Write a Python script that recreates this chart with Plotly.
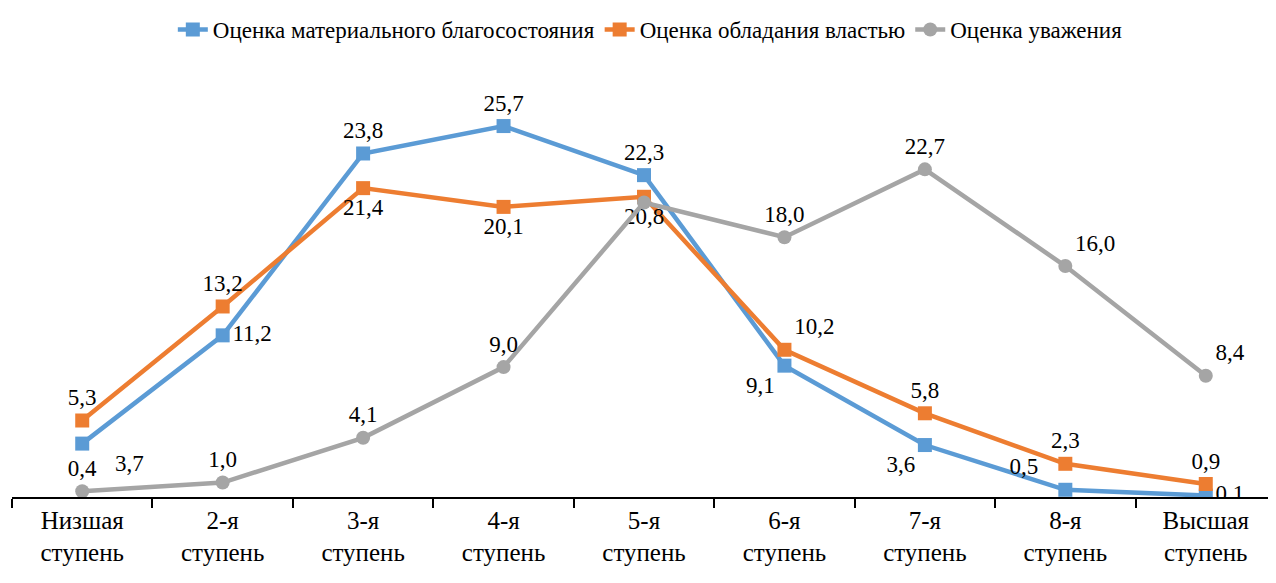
import plotly.graph_objects as go

categories = ["Низшая<br>ступень", "2-я<br>ступень", "3-я<br>ступень", "4-я<br>ступень", "5-я<br>ступень",
              "6-я<br>ступень", "7-я<br>ступень", "8-я<br>ступень", "Высшая<br>ступень"]
material = [3.7, 11.2, 23.8, 25.7, 22.3, 9.1, 3.6, 0.5, 0.1]
power = [5.3, 13.2, 21.4, 20.1, 20.8, 10.2, 5.8, 2.3, 0.9]
respect = [0.4, 1.0, 4.1, 9.0, 20.4, 18.0, 22.7, 16.0, 8.4]

names = ["Оценка материального благосостояния", "Оценка обладания властью", "Оценка уважения"]
colors = ["#5B9BD5", "#ED7D31", "#A5A5A5"]

pos_material = ["bottom right", "middle right", "top center", "top center", "top center",
                "bottom left", "bottom left", "top left", "middle right"]
pos_power = ["top center", "top center", "bottom center", "bottom center", "bottom center",
             "top right", "top center", "top center", "top center"]
pos_respect = ["top center", "top center", "top center", "top center", "top center",
               "top center", "top center", "top right", "top right"]

NB = "\u00a0"

def fmt(v):
    return f"{v:.1f}".replace(".", ",")

mat_txt = [fmt(v) for v in material]
mat_txt[0] = NB * 4 + mat_txt[0]
mat_txt[7] = mat_txt[7] + NB * 3

fig = go.Figure()
series = [
    (material, names[0], colors[0], "square", pos_material, mat_txt),
    (power, names[1], colors[1], "square", pos_power, [fmt(v) for v in power]),
    (respect, names[2], colors[2], "circle", pos_respect,
     [fmt(v) if i != 4 else "" for i, v in enumerate(respect)]),
]
for vals, name, col, sym, pos, txt in series:
    fig.add_trace(go.Scatter(
        x=categories, y=vals, name=name, mode="lines+markers+text",
        line=dict(color=col, width=4.5),
        marker=dict(symbol=sym, size=14, color=col),
        text=txt, textposition=pos,
        textfont=dict(family="serif", size=23, color="black"),
    ))

fig.update_layout(
    width=1268, height=575,
    paper_bgcolor="white", plot_bgcolor="white",
    margin=dict(l=4, r=0, t=46, b=86),
    font=dict(family="Liberation Serif", size=23, color="black"),
    legend=dict(orientation="h", x=0.505, xanchor="center", y=1.08, yanchor="middle",
                font=dict(family="Times New Roman", size=23, color="black")),
    showlegend=True,
)
fig.update_xaxes(
    type="category", showline=True, linecolor="black", linewidth=1.5,
    ticks="outside", tickson="boundaries", ticklen=9, tickcolor="black", tickwidth=1.5,
    showgrid=False, tickfont=dict(family="Tinos", size=25, color="black"),
    range=[-0.5, 8.5],
)
fig.update_yaxes(range=[0, 30], showgrid=False, showticklabels=False, zeroline=False,
                 showline=False)

fig.write_html("out.html")
